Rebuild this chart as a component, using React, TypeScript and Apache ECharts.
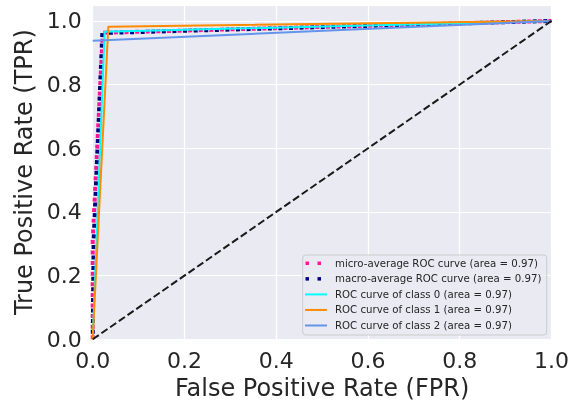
import React, { useEffect, useRef } from "react";
import * as echarts from "echarts";

const xTicks = [0, 0.2, 0.4, 0.6, 0.8, 1.0];
const yTicks = [0, 0.2, 0.4, 0.6, 0.8, 1.0];

const chanceLine: number[][] = [[0, 0], [1, 1]];
const microAvg: number[][] = [[0, 0], [0, 0.31], [0.022, 0.963], [1, 1]];
const macroAvg: number[][] = [[0, 0], [0.002, 0.31], [0.021, 0.962], [1, 1]];
const class0: number[][] = [[0, 0], [0.026, 0.966], [1, 1]];
const class1: number[][] = [[0, 0], [0.034, 0.982], [1, 1]];
const class2: number[][] = [[0, 0.938], [1, 1]];

const legendNames = [
  "micro-average ROC curve (area = 0.97)",
  "macro-average ROC curve (area = 0.97)",
  "ROC curve of class 0 (area = 0.97)",
  "ROC curve of class 1 (area = 0.97)",
  "ROC curve of class 2 (area = 0.97)",
];
const legendColors = ["#FF1493", "#000080", "#00FFFF", "#FF8C00", "#6495ED"];
const legendDotted = [true, true, false, false, false];

const FONT = "DejaVu Sans";
const TEXT = "#262626";

export default function App() {
  const ref = useRef<HTMLDivElement>(null);
  useEffect(() => {
    if (!ref.current) return;
    const chart = echarts.init(ref.current, undefined, { renderer: "svg" });
    const lineSeries = (
      name: string,
      data: number[][],
      color: string,
      width: number,
      type: any,
      dashOffset = 0
    ) => ({
      name,
      type: "line",
      data,
      showSymbol: false,
      symbol: "none",
      silent: true,
      lineStyle: { color, width, type, cap: "butt", dashOffset },
      itemStyle: { color },
    });

    // legend drawn as graphic elements (matplotlib-style handles)
    const lgX = 302.7;
    const lgY = 255;
    const rowY0 = 263.3;
    const rowStep = 15.55;
    const legendEls: any[] = [
      {
        type: "rect",
        z: 100,
        silent: true,
        shape: { x: lgX, y: lgY, width: 244, height: 80, r: 3 },
        style: { fill: "rgba(234,234,242,0.85)", stroke: "#cccccc", lineWidth: 1 },
      },
    ];
    legendNames.forEach((name, i) => {
      const cy = rowY0 + i * rowStep;
      const color = legendColors[i];
      if (legendDotted[i]) {
        legendEls.push({
          type: "rect",
          z: 101,
          silent: true,
          shape: { x: 305.5, y: cy - 1.75, width: 3.5, height: 3.5 },
          style: { fill: color },
        });
        legendEls.push({
          type: "rect",
          z: 101,
          silent: true,
          shape: { x: 317.5, y: cy - 1.75, width: 3.5, height: 3.5 },
          style: { fill: color },
        });
      } else {
        legendEls.push({
          type: "line",
          z: 101,
          silent: true,
          shape: { x1: 305, y1: cy, x2: 327, y2: cy },
          style: { stroke: color, lineWidth: 2 },
        });
      }
      legendEls.push({
        type: "text",
        z: 101,
        silent: true,
        x: 335,
        y: cy,
        style: {
          text: name,
          fontSize: 10.2,
          fontFamily: FONT,
          fill: TEXT,
          align: "left",
          verticalAlign: "middle",
        },
      });
    });

    chart.setOption({
      animation: false,
      textStyle: { fontFamily: FONT },
      grid: {
        left: 92.7,
        right: 576 - 551.5,
        top: 5,
        bottom: 401 - 339.3,
        containLabel: false,
        outerBoundsMode: "none",
        show: true,
        backgroundColor: "#EAEAF2",
        borderWidth: 0,
      },
      xAxis: {
        type: "value",
        min: 0,
        max: 1,
        interval: 0.2,
        name: "False Positive Rate (FPR)",
        nameLocation: "middle",
        nameGap: 29,
        nameTextStyle: { fontSize: 24, color: TEXT, fontFamily: FONT },
        axisLine: { show: false },
        axisTick: { show: false },
        axisLabel: {
          fontSize: 22,
          color: TEXT,
          fontFamily: FONT,
          margin: 10,
          formatter: (v: number) => (xTicks.some((t) => Math.abs(t - v) < 1e-6) ? v.toFixed(1) : ""),
        },
        splitLine: { show: true, lineStyle: { color: "#ffffff", width: 1.2 } },
      },
      yAxis: {
        type: "value",
        min: 0,
        max: 1.05,
        interval: 0.2,
        name: "True Positive Rate (TPR)",
        nameLocation: "middle",
        nameGap: 51,
        nameTextStyle: { fontSize: 24, color: TEXT, fontFamily: FONT },
        axisLine: { show: false },
        axisTick: { show: false },
        axisLabel: {
          fontSize: 22,
          color: TEXT,
          fontFamily: FONT,
          margin: 11,
          padding: [3, 0, 0, 0],
          showMaxLabel: false,
          formatter: (v: number) => (yTicks.some((t) => Math.abs(t - v) < 1e-6) ? v.toFixed(1) : ""),
        },
        splitLine: { show: true, lineStyle: { color: "#ffffff", width: 1.2 } },
      },
      graphic: legendEls,
      series: [
        lineSeries(legendNames[0], microAvg, "#FF1493", 4, [4, 6.6]),
        lineSeries(legendNames[1], macroAvg, "#000080", 4, [4, 6.6], 5.3),
        lineSeries(legendNames[2], class0, "#00FFFF", 2, "solid"),
        lineSeries(legendNames[3], class1, "#FF8C00", 2, "solid"),
        lineSeries(legendNames[4], class2, "#6495ED", 2, "solid"),
        lineSeries("chance", chanceLine, "#1a1a1a", 2, [7.4, 3.2]),
      ],
    });
    return () => chart.dispose();
  }, []);
  return <div ref={ref} style={{ position: "fixed", left: 0, top: 0, width: 576, height: 401 }} />;
}
